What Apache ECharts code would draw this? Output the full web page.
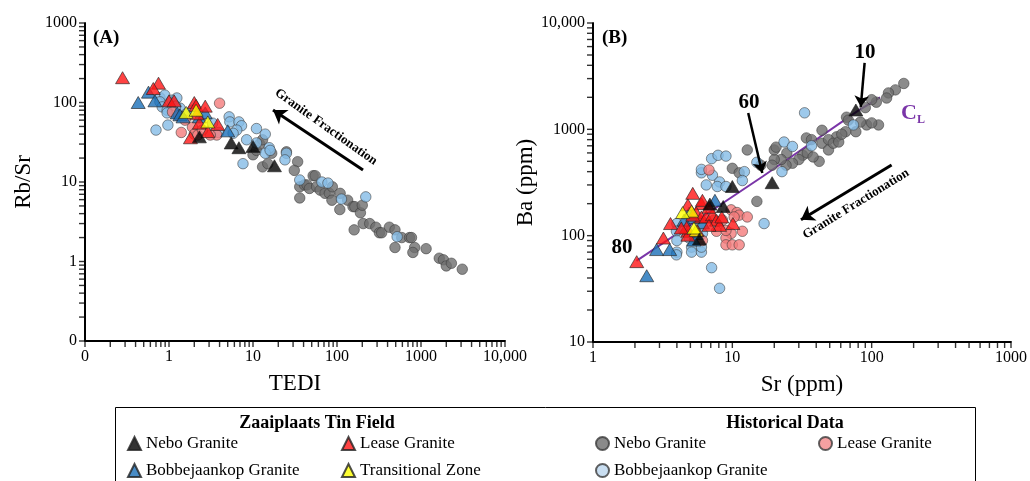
<!DOCTYPE html>
<html>
<head>
<meta charset="utf-8">
<script src="https://cdn.jsdelivr.net/npm/echarts@6/dist/echarts.min.js"></script>
<style>
  html, body { margin: 0; padding: 0; background: #fff; }
  #chart { width: 1030px; height: 481px; }
</style>
</head>
<body>
<div id="chart"></div>
<script>
// ---- panel A: TEDI vs Rb/Sr ----
const aNeboZ = [[2.3,37],[5.5,31],[6.8,27],[10,28],[18,16]];
const aLeaseZ = [[0.28,205],[0.75,175],[0.65,150],[1.0,105],[1.15,105],[2.0,100],[2.1,92],[2.7,90],[1.8,36],[2.3,55],[2.9,43],[3.8,53],[2.15,72]];
const aBobZ = [[0.43,100],[0.57,135],[0.68,105],[1.25,74],[1.35,70],[1.47,66],[2.3,66],[2.7,74],[5.0,44]];
const aTrans = [[1.6,75],[2.1,80],[2.9,57]];
const aNeboH = [[10,22],[11,25],[12,30],[13,34],[13,15.5],[15,17],[16.7,23],[25,24],[34,18],[31,14],[36,8.7],[41,9.2],[44,9.2],[47,8.3],[52,12],[55,12],[36,6.3],[57,8.7],[63,7.9],[72,7.2],[81,7.2],[88,8.7],[87,5.9],[109,7.2],[108,4.5],[134,5.9],[155,4.9],[163,4.9],[190,4.1],[200,5.1],[205,3.0],[245,3.0],[290,2.7],[160,2.5],[320,2.3],[340,2.3],[420,2.7],[490,2.5],[490,1.5],[590,2.0],[730,2.0],[770,2.0],[840,1.5],[800,1.3],[1150,1.45],[1650,1.1],[1850,1.05],[2000,0.88],[2300,0.95],[3100,0.8]];
const aLeaseH = [[4,98],[1.1,76],[1.9,49],[2.0,40],[3.7,39],[1.55,60],[3.1,39],[2.2,39],[1.4,42],[1.3,68],[2.5,45]];
const aBobH = [[0.7,45],[0.97,52],[0.78,115],[0.89,124],[1.08,107],[1.24,114],[0.78,102],[0.83,88],[0.95,80],[1.35,85],[0.95,74],[1.9,80],[3.3,55],[3.9,42],[5.2,66],[5.3,57],[6.8,57],[7.3,51],[6.4,45],[8.4,34],[11,47],[14,40],[7.6,17],[11,31],[15.6,27],[14,23],[16,25],[25,23],[24,19],[36,10.6],[66,10],[78,9.7],[113,6.1],[220,6.5],[520,2.05],[5.8,41],[1.6,72],[1.2,90]];

// ---- panel B: Sr vs Ba ----
const bNeboZ = [[77,1520],[19.3,315],[10,290],[6.9,198],[8.6,188],[5.8,93]];
const bLeaseZ = [[2.06,57],[3.2,95],[3.6,130],[4.8,110],[4.8,101],[5.2,250],[4.8,195],[6.0,200],[6.1,215],[5.5,165],[6.0,150],[6.5,150],[7.2,157],[7.7,140],[8.1,125],[6.8,125],[4.7,120],[4.3,118],[10.1,130],[6.8,185],[5.6,112],[5.2,156],[8.4,150]];
const bBobZ = [[2.43,42],[2.86,74],[3.55,74],[7.5,215],[6.1,132],[5.2,148],[4.9,163],[5.5,105],[5.3,91],[4.5,140]];
const bTrans = [[5.1,170],[5.5,112],[4.4,165],[5.3,118]];
const bNeboH = [[170,2700],[148,2350],[132,2200],[128,1970],[108,1800],[100,1900],[90,1600],[92,1100],[83,1170],[77,950],[65,950],[66,1300],[68,1220],[56,850],[44,980],[44,740],[49,640],[42,500],[34,830],[37,800],[32,570],[30,520],[34.5,600],[38,550],[27,480],[24.6,600],[24.3,460],[22.4,520],[20,520],[20,640],[19.3,460],[12.8,640],[10,430],[11.2,390],[15,210],[16,460],[20.6,680],[49,800],[53,740],[58,760],[61,900],[112,1100],[100,1150]];
const bLeaseH = [[6.8,415],[9.8,175],[10.8,165],[11.2,156],[12.8,150],[9.8,105],[9.0,95],[9.0,82],[10,82],[11.2,82],[11.8,110],[7.4,140],[8.5,140],[7.7,110],[6.1,90],[10.3,150],[9.0,112]];
const bBobH = [[33,1430],[74,1100],[37,700],[23.5,760],[27,690],[22.7,400],[16.9,130],[15,490],[7.1,530],[7.9,570],[9.0,560],[6.0,390],[7.2,370],[12.2,400],[11.8,330],[8.1,320],[7.8,290],[9.0,290],[8.1,32],[7.1,50],[4.0,130],[3.97,110],[4.0,90],[4.0,70],[3.97,66],[5.1,78],[5.1,70],[6.0,70],[6.0,78],[6.1,105],[4.5,110],[4.9,95],[6.0,420],[6.5,300]];
const cL = [[2.05,58],[16.5,360],[80,1500],[115,2000]];

// ---- ticks ----
const aXTicks = [0.1, 1, 10, 100, 1000, 10000];
const aXLabels = ["0", "1", "10", "100", "1000", "10,000"];
const aYTicks = [0.1, 1, 10, 100, 1000];
const aYLabels = ["0", "1", "10", "100", "1000"];
const bXTicks = [1, 10, 100, 1000];
const bXLabels = ["1", "10", "100", "1000"];
const bYTicks = [10, 100, 1000, 10000];
const bYLabels = ["10", "100", "1000", "10,000"];

const serif = "Liberation Serif";
// 1..9 in each decade
const allTicks = (ticks) =>
  ticks.slice(0, -1).flatMap((t) => [1, 2, 3, 4, 5, 6, 7, 8, 9].map((m) => +(t * m).toPrecision(3)))
    .concat([ticks[ticks.length - 1]]);

function logAxis(gridIndex, ticks, labels, extra) {
  return Object.assign({
    type: "log", logBase: 10, gridIndex,
    min: ticks[0], max: ticks[ticks.length - 1],
    splitLine: { show: false },
    axisLine: { show: true, onZero: false, lineStyle: { color: "#000", width: 2 } },
    axisTick: { show: false },
    axisLabel: {
      customValues: ticks,
      fontFamily: serif, fontSize: 16, color: "#000",
      formatter: (v) => labels[ticks.findIndex((t) => Math.abs(Math.log10(t) - Math.log10(v)) < 1e-6)],
    },
    nameLocation: "middle",
    nameTextStyle: { fontFamily: serif, fontSize: 23, color: "#000" },
  }, extra);
}

// log tick marks as thin rect symbols sitting on the axis lines
const tickSeries = (g, xTicks, yTicks) => [
  {
    type: "scatter", xAxisIndex: g, yAxisIndex: g, silent: true, clip: false, z: 8,
    symbol: "rect", symbolSize: [1.4, 5], symbolOffset: [0, 3.5],
    itemStyle: { color: "#000" }, emphasis: { disabled: true },
    data: allTicks(xTicks).map((v) => [v, yTicks[0]]),
  },
  {
    type: "scatter", xAxisIndex: g, yAxisIndex: g, silent: true, clip: false, z: 8,
    symbol: "rect", symbolSize: [5, 1.4], symbolOffset: [-3.5, 0],
    itemStyle: { color: "#000" }, emphasis: { disabled: true },
    data: allTicks(yTicks).map((v) => [xTicks[0], v]),
  },
];

const tri = (name, data, g, color) => ({
  type: "scatter", name, data, xAxisIndex: g, yAxisIndex: g,
  symbol: "triangle", symbolSize: [14, 12], z: 4,
  itemStyle: { color, borderColor: "#222", borderWidth: 0.8 },
});
const dot = (name, data, g, color) => ({
  type: "scatter", name, data, xAxisIndex: g, yAxisIndex: g,
  symbol: "circle", symbolSize: 10.5, z: 3,
  itemStyle: { color, borderColor: "#3a3a3a", borderWidth: 0.7 },
});

const C = {
  neboZ: "#000000", leaseZ: "#ff1414", bobZ: "#1a6fb8", trans: "#ffff00",
  neboH: "#6e6e6e", leaseH: "#f47c7c", bobH: "#85bce6",
};
const N = {
  neboZ: "Nebo Granite|Z", leaseZ: "Lease Granite|Z", bobZ: "Bobbejaankop Granite|Z", trans: "Transitional Zone|Z",
  neboH: "Nebo Granite|H", leaseH: "Lease Granite|H", bobH: "Bobbejaankop Granite|H",
};

const arrowA = [[{ coord: [204, 14.2] }, { coord: [17.3, 80.5] }]];
const arrowB = [[{ coord: [139, 462] }, { coord: [31.1, 141] }]];
const arrowsCL = [
  [{ coord: [89, 4220] }, { coord: [83.5, 1630] }],
  [{ coord: [13.0, 1425] }, { coord: [16.4, 389] }],
];

const series = [];
[[0, aNeboH, aBobH, aLeaseH, aBobZ, aLeaseZ, aTrans, aNeboZ], [1, bNeboH, bBobH, bLeaseH, bBobZ, bLeaseZ, bTrans, bNeboZ]]
  .forEach(([g, nh, bh, lh, bz, lz, tz, nz]) => {
    series.push(dot(N.neboH, nh, g, C.neboH));
    series.push(dot(N.bobH, bh, g, C.bobH));
    series.push(dot(N.leaseH, lh, g, C.leaseH));
    if (g === 1) {
      series.push({
        type: "line", name: "CL", data: cL, xAxisIndex: 1, yAxisIndex: 1,
        showSymbol: false, z: 3, lineStyle: { color: "#7a35a8", width: 2 },
      });
    }
    series.push(tri(N.bobZ, bz, g, C.bobZ));
    series.push(tri(N.leaseZ, lz, g, C.leaseZ));
    series.push(tri(N.trans, tz, g, C.trans));
    series.push(tri(N.neboZ, nz, g, C.neboZ));
  });
series.push(...tickSeries(0, aXTicks, aYTicks), ...tickSeries(1, bXTicks, bYTicks));

const mk = (data, width, size) => ({
  silent: true, symbol: ["none", "arrow"], symbolSize: size, label: { show: false },
  lineStyle: { color: "#000", width, type: "solid" }, emphasis: { disabled: true }, data,
});
series.push({ type: "scatter", data: [], xAxisIndex: 0, yAxisIndex: 0, z: 6, markLine: mk(arrowA, 3, 13) });
series.push({ type: "scatter", data: [], xAxisIndex: 1, yAxisIndex: 1, z: 6, markLine: mk(arrowB, 3, 13) });
series.push({ type: "scatter", data: [], xAxisIndex: 1, yAxisIndex: 1, z: 6, markLine: mk(arrowsCL, 2.5, 11) });

// one legend per entry so each sits in its own row/column
const legendItem = (left, top, name, color) => ({
  orient: "horizontal", left, top, padding: 0, itemWidth: 13, itemHeight: 13, itemGap: 5,
  selectedMode: false,
  formatter: (n) => n.split("|")[0],
  textStyle: { fontFamily: serif, fontSize: 17, color: "#000" },
  data: [color ? { name, itemStyle: { color } } : name],
});
const row1 = 435, row2 = 462;

const bold = (x, y, text, size, extra) => ({
  type: "text", x, y, z: 10,
  style: Object.assign({ text, fontFamily: serif, fontWeight: "bold", fontSize: size, fill: "#000",
    align: "center", verticalAlign: "middle" }, extra || {}),
});

const option = {
  animation: false,
  backgroundColor: "#fff",
  grid: [
    { left: 85, top: 23, width: 420, height: 318 },
    { left: 593, top: 23, width: 420, height: 319 },
  ],
  xAxis: [
    logAxis(0, aXTicks, aXLabels, { name: "TEDI", nameGap: 31, position: "bottom" }),
    logAxis(1, bXTicks, bXLabels, { name: "Sr (ppm)", nameGap: 31, position: "bottom" }),
  ],
  yAxis: [
    logAxis(0, aYTicks, aYLabels, { name: "Rb/Sr", nameGap: 50, position: "left" }),
    logAxis(1, bYTicks, bYLabels, { name: "Ba (ppm)", nameGap: 52, position: "left" }),
  ],
  legend: [
    legendItem(127, row1, N.neboZ),
    legendItem(127, row2, N.bobZ),
    legendItem(341, row1, N.leaseZ),
    legendItem(341, row2, N.trans),
    legendItem(595, row1, N.neboH, "#6d6d6d"),
    legendItem(595, row2, N.bobH, "#bcd6ee"),
    legendItem(818, row1, N.leaseH, "#f4888a"),
  ],
  graphic: [
    { type: "rect", shape: { x: 115.5, y: 407.5, width: 860, height: 90 }, style: { fill: "none", stroke: "#000", lineWidth: 1 } },
    bold(317, 423, "Zaaiplaats Tin Field", 18),
    bold(785, 423, "Historical Data", 18),
    bold(93, 38, "(A)", 19, { align: "left" }),
    bold(602, 38, "(B)", 19, { align: "left" }),
    Object.assign(bold(326, 127, "Granite Fractionation", 13), { rotation: -0.62 }),
    Object.assign(bold(856, 204, "Granite Fractionation", 13), { rotation: 0.553 }),
    bold(865, 53, "10", 21),
    bold(749, 103, "60", 21),
    bold(622, 248, "80", 21),
    {
      type: "text", x: 901, y: 113, z: 10,
      style: {
        text: "{c|C}{l|L}", verticalAlign: "middle",
        rich: {
          c: { fontFamily: serif, fontSize: 22, fontWeight: "bold", fill: "#7a35a8" },
          l: { fontFamily: serif, fontSize: 12, fontWeight: "bold", fill: "#7a35a8", padding: [14, 0, 0, 0] },
        },
      },
    },
  ],
  series,
};

echarts.init(document.getElementById("chart"), null, { renderer: "canvas" }).setOption(option);
</script>
</body>
</html>
